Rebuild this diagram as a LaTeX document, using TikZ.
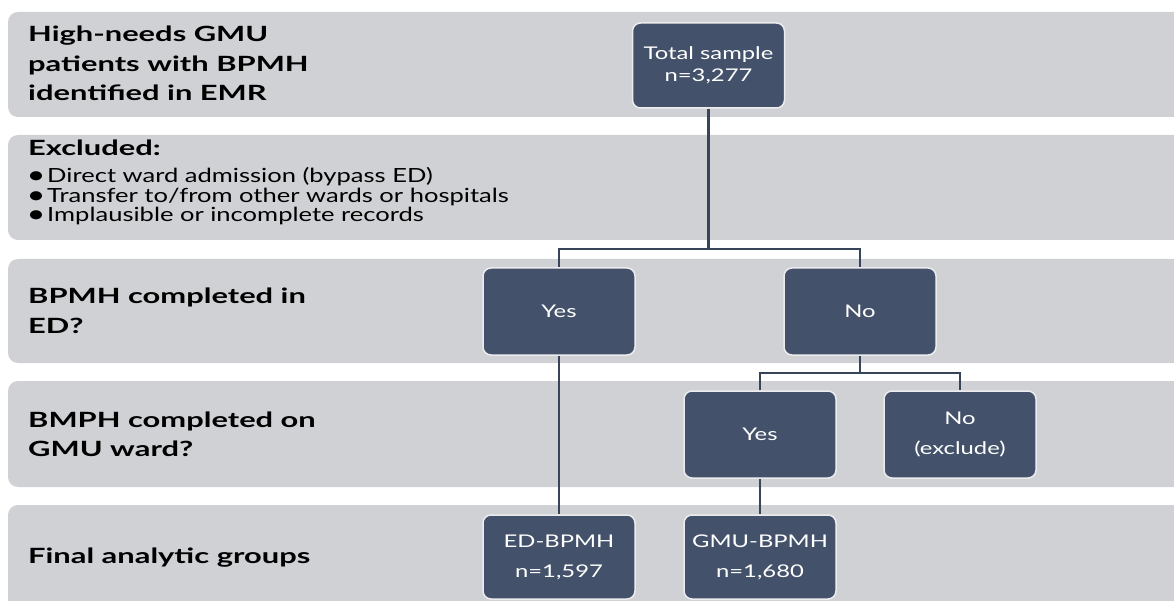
\documentclass[tikz,border=0pt]{standalone}
\usepackage{fontspec}
\setmainfont{Lato}[FakeStretch=1.36]
\newfontfamily\headfont{Lato}[FakeStretch=1.47]
\newfontfamily\bulfont{Lato}[FakeStretch=1.31]
\definecolor{bandc}{RGB}{208,209,213}
\definecolor{boxc}{RGB}{67,82,106}
\definecolor{linec}{RGB}{55,68,90}
\definecolor{edgec}{RGB}{236,236,238}
\tikzset{
  bandbox/.style={fill=bandc, rounded corners=10pt},
  stepbox/.style={fill=boxc, draw=edgec, line width=1.5pt, rounded corners=8pt,
    minimum width=152pt, minimum height=87pt, text=white, align=center,
    font=\fontsize{17.5}{22}\selectfont, inner sep=0pt},
  conn/.style={draw=linec, line width=2.8pt},
  headlbl/.style={anchor=base west, inner sep=0pt, font=\headfont\bfseries\fontsize{21}{30}\selectfont},
  bullbl/.style={anchor=base west, inner sep=0pt, font=\bulfont\fontsize{19.5}{19.5}\selectfont},
  dotlbl/.style={anchor=base west, inner sep=0pt, font=\bulfont\bfseries\fontsize{21}{19.5}\selectfont},
}
\begin{document}
\begin{tikzpicture}[x=1pt,y=-1pt]
\useasboundingbox (0,0) rectangle (1174,601);
\clip (0,0) rectangle (1174,601);
\fill[white] (0,0) rectangle (1174,601);
% bands
\fill[bandbox] (8,12) rectangle (1200,117);
\fill[bandbox] (8,135) rectangle (1200,240);
\fill[bandbox] (8,259) rectangle (1200,363);
\fill[bandbox] (8,381) rectangle (1200,487);
\fill[bandbox] (8,505) rectangle (1200,640);
% left labels
\node[headlbl] (h1a) at (28,42) {High-needs GMU};
\node[headlbl] (h1b) at (28,72) {patients with BPMH};
\node[headlbl] (h1c) at (28,101) {identified in EMR};
\node[headlbl] (h2) at (28,156) {Excluded:};
\node[dotlbl] (b1d) at (28,183) {•};
\node[bullbl] (b1) at (47,183) {Direct ward admission (bypass ED)};
\node[dotlbl] (b2d) at (28,203) {•};
\node[bullbl] (b2) at (47,203) {Transfer to/from other wards or hospitals};
\node[dotlbl] (b3d) at (28,222) {•};
\node[bullbl] (b3) at (47,222) {Implausible or incomplete records};
\node[headlbl] (h3a) at (28,303) {BPMH completed in};
\node[headlbl] (h3b) at (28,334) {ED?};
\node[headlbl] (h4a) at (28,427) {BMPH completed on};
\node[headlbl] (h4b) at (28,456) {GMU ward?};
\node[headlbl] (h5) at (28,563) {Final analytic groups};
% boxes
\node[stepbox, minimum height=85pt] (total) at (708.5,65.5) {Total sample\\n=3,277};
\node[stepbox] (yes1) at (559,311.5) {Yes};
\node[stepbox] (no1) at (860,311.5) {No};
\node[stepbox] (yes2) at (760,434.5) {Yes};
\node[stepbox] (no2) at (960,434.5) {No\\[8pt](exclude)};
\node[stepbox, minimum height=84pt] (ed) at (559,557) {ED-BPMH\\[8pt]n=1,597};
\node[stepbox, minimum height=84pt] (gmu) at (760,557) {GMU-BPMH\\[8pt]n=1,680};
% connectors
\coordinate (j1) at (708.5,249);
\coordinate (j2) at (860,373);
\draw[conn] (total.south) -- (j1);
\draw[conn] (yes1.north) |- (j1) -| (no1.north);
\draw[conn] (no1.south) -- (j2);
\draw[conn] (yes2.north) |- (j2) -| (no2.north);
\draw[conn] (yes1.south) -- (ed.north);
\draw[conn] (yes2.south) -- (gmu.north);
\end{tikzpicture}
\end{document}
